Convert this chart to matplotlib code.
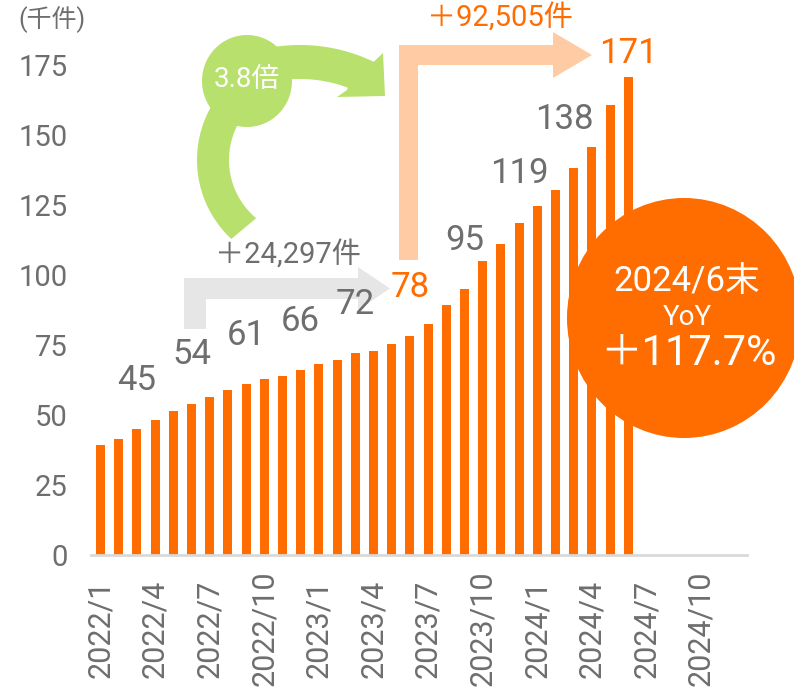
import numpy as np
import matplotlib.pyplot as plt
from matplotlib.patches import Polygon, Ellipse

FONTS = ['Roboto', 'Noto Sans CJK JP', 'DejaVu Sans']
plt.rcParams['font.family'] = FONTS

# Monthly cases (thousand), 2022/1 - 2024/6
values = [39.4, 41.5, 44.9, 48.1, 51.4, 54.0, 56.6, 59.1, 60.9, 63.0,
          63.8, 65.9, 68.2, 69.6, 72.1, 73.0, 75.3, 78.2, 82.5, 89.4,
          94.9, 104.9, 111.2, 118.7, 124.8, 130.5, 138.1, 145.6, 160.8, 170.6]
n_slots = 36  # axis runs to 2024/12

tick_pos = [0, 3, 6, 9, 12, 15, 18, 21, 24, 27, 30, 33]
tick_labels = ['2022/1', '2022/4', '2022/7', '2022/10', '2023/1', '2023/4',
               '2023/7', '2023/10', '2024/1', '2024/4', '2024/7', '2024/10']

label_idx = [2, 5, 8, 11, 14, 17, 20, 23, 26, 29]
label_text = ['45', '54', '61', '66', '72', '78', '95', '119', '138', '171']
highlight = ['78', '171']

unit_label = '(千件)'
gray_note = '＋24,297件'
peach_note = '＋92,505件'
ratio_note = '3.8倍'
circle_lines = ['2024/6末', 'YoY', '＋117.7%']

ORANGE = '#FF6C00'
GRAY = '#6E6E6E'
W, H = 794, 691

fig = plt.figure(figsize=(W / 100, H / 100), dpi=100)

# back overlay in pixel coords (y down) for arrows
back = fig.add_axes([0, 0, 1, 1], zorder=0)
back.set_xlim(0, W)
back.set_ylim(H, 0)
back.axis('off')

ax = fig.add_axes([91.4 / W, 1 - 555 / H, 655.2 / W, 546 / H], zorder=1)
ax.patch.set_alpha(0)

front = fig.add_axes([0, 0, 1, 1], zorder=2)
front.set_xlim(0, W)
front.set_ylim(H, 0)
front.axis('off')

# bars
x = np.arange(len(values))
ax.bar(x, values, width=0.5, color=ORANGE, zorder=2)
ax.set_xlim(-0.5, n_slots - 0.5)
ax.set_ylim(0, 195)
ax.set_yticks([0, 25, 50, 75, 100, 125, 150, 175])
ax.set_xticks(tick_pos)
ax.set_xticklabels(tick_labels, rotation=90, va='center', ha='center')
ax.tick_params(axis='y', length=0, pad=17, labelsize=21, labelcolor=GRAY)
ax.tick_params(axis='x', length=0, pad=53, labelsize=22, labelcolor=GRAY)
for s in ['top', 'right', 'left']:
    ax.spines[s].set_visible(False)
ax.spines['bottom'].set_color('#D9D9D9')
ax.spines['bottom'].set_linewidth(2)

# value labels
for i, t in zip(label_idx, label_text):
    col = ORANGE if t in highlight else GRAY
    off = 8.5 if i == len(values) - 1 else 17.5
    dx = -0.5 if t == '138' else 0
    ax.text(i + dx, values[i] + off, t, ha='center', va='center',
            fontsize=25, color=col, clip_on=False, zorder=3)

fig.text(52 / W, 1 - 20 / H, unit_label, ha='center', va='center',
         fontsize=18, color=GRAY)


def elbow_arrow(a, x0, x1, bottom, band_top, band_bot, head_x, tip_x, head_half, color):
    cy = (band_top + band_bot) / 2
    pts = [(x0, bottom), (x0, band_top), (head_x, band_top), (head_x, cy - head_half),
           (tip_x, cy), (head_x, cy + head_half), (head_x, band_bot), (x1, band_bot), (x1, bottom)]
    a.add_patch(Polygon(pts, closed=True, facecolor=color, edgecolor='none'))


elbow_arrow(back, 184, 206, 329, 278, 299, 358, 390, 21.5, '#E6E6E6')
back.text(288, 255, gray_note, ha='center', va='center', fontsize=21, color=GRAY)

elbow_arrow(back, 399, 418, 260, 45, 65, 553, 592, 23, '#FFCBA4')
back.text(500, 18, peach_note, ha='center', va='center', fontsize=21, color=ORANGE)

# green curved arrow
GREEN = '#B8E06C'


def arc(cx, cy, r, a0, a1, n=40):
    t = np.radians(np.linspace(a0, a1, n))
    return list(zip(cx + r * np.cos(t), cy + r * np.sin(t)))


tail = arc(305, 160, 108, 133, 215) + arc(305, 160, 76, 215, 130)
back.add_patch(Polygon(tail, closed=True, facecolor=GREEN, edgecolor='none'))
upper = arc(300, 215, 170, -100, -64.3) + [(383, 53), (385, 96), (337, 97), (347, 90)] \
    + arc(300, 215, 136, -69.4, -100)
back.add_patch(Polygon(upper, closed=True, facecolor=GREEN, edgecolor='none'))
back.add_patch(Ellipse((247, 81), 90, 92, facecolor=GREEN, edgecolor='none'))
back.text(247, 79, ratio_note, ha='center', va='center', fontsize=20, color='white')

# YoY circle
front.add_patch(Ellipse((684, 318), 234, 240, facecolor=ORANGE, edgecolor='none'))
front.text(687, 281, circle_lines[0], ha='center', va='center', fontsize=25, color='white')
front.text(687, 317, circle_lines[1], ha='center', va='center', fontsize=20, color='white')
front.text(688, 353, circle_lines[2], ha='center', va='center', fontsize=30, color='white')

fig.savefig('out.png', dpi=100)
